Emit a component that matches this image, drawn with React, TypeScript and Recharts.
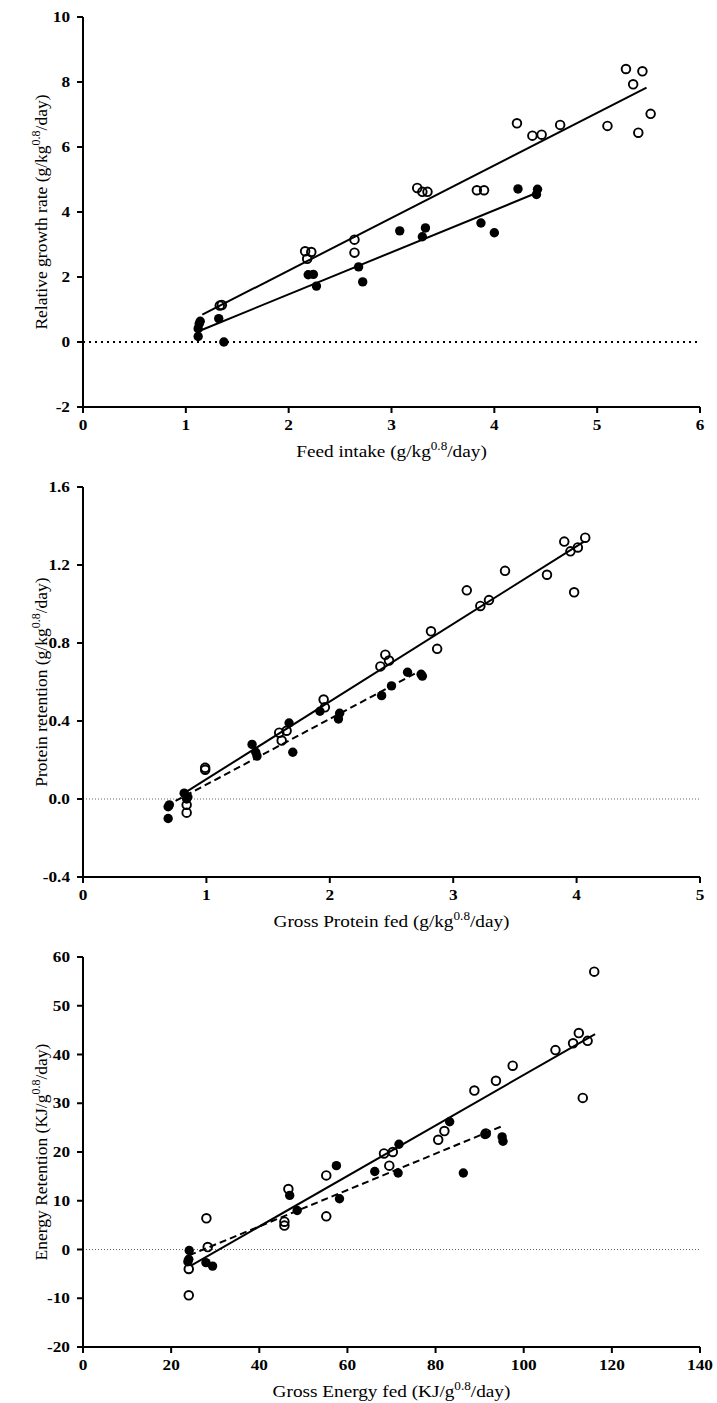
import React from 'react';
import { ScatterChart, Scatter, XAxis, YAxis, ReferenceLine, Label } from 'recharts';

// panel 1: relative growth rate vs feed intake
const growthOpenX = [1.33, 1.35, 2.16, 2.22, 2.18, 2.64, 2.64, 3.25, 3.30, 3.35, 3.83, 3.90, 4.22, 4.37, 4.46, 4.64, 5.10, 5.28, 5.44, 5.35, 5.40, 5.52];
const growthOpenY = [1.12, 1.14, 2.79, 2.77, 2.56, 3.15, 2.75, 4.74, 4.62, 4.62, 4.67, 4.67, 6.73, 6.35, 6.38, 6.68, 6.65, 8.40, 8.33, 7.93, 6.44, 7.02];
const growthFilledX = [1.12, 1.12, 1.13, 1.14, 1.32, 1.37, 2.19, 2.24, 2.27, 2.68, 2.72, 3.08, 3.33, 3.30, 3.87, 4.00, 4.23, 4.42, 4.41];
const growthFilledY = [0.17, 0.41, 0.56, 0.64, 0.72, 0.00, 2.07, 2.08, 1.72, 2.31, 1.85, 3.42, 3.51, 3.24, 3.66, 3.36, 4.71, 4.70, 4.54];
const growthOpenFit = [{ x: 1.16, y: 0.84 }, { x: 5.48, y: 7.83 }];
const growthFilledFit = [{ x: 1.13, y: 0.34 }, { x: 4.39, y: 4.56 }];

// panel 2: protein retention vs gross protein fed
const proteinOpenX = [0.99, 0.99, 0.84, 0.84, 1.59, 1.65, 1.61, 1.95, 1.96, 2.41, 2.45, 2.48, 2.82, 2.87, 3.11, 3.22, 3.29, 3.42, 3.76, 3.90, 3.95, 4.01, 3.98, 4.07];
const proteinOpenY = [0.16, 0.15, -0.03, -0.07, 0.34, 0.35, 0.30, 0.51, 0.47, 0.68, 0.74, 0.71, 0.86, 0.77, 1.07, 0.99, 1.02, 1.17, 1.15, 1.32, 1.27, 1.29, 1.06, 1.34];
const proteinFilledX = [0.69, 0.70, 0.69, 0.82, 0.85, 0.84, 1.37, 1.40, 1.41, 1.67, 1.70, 1.92, 2.08, 2.07, 2.42, 2.50, 2.63, 2.74, 2.75];
const proteinFilledY = [-0.04, -0.03, -0.10, 0.03, 0.01, 0.00, 0.28, 0.24, 0.22, 0.39, 0.24, 0.45, 0.44, 0.41, 0.53, 0.58, 0.65, 0.64, 0.63];
const proteinOpenFit = [{ x: 0.82, y: 0.03 }, { x: 4.06, y: 1.32 }];
const proteinFilledFit = [{ x: 0.75, y: -0.01 }, { x: 2.71, y: 0.65 }];

// panel 3: energy retention vs gross energy fed
const energyOpenX = [24.0, 24.0, 28.0, 28.3, 45.7, 45.7, 46.6, 55.2, 55.2, 68.3, 70.3, 69.5, 80.6, 82.0, 88.8, 91.4, 93.7, 97.5, 107.2, 111.2, 112.5, 114.5, 113.4, 116.0];
const energyOpenY = [-4.0, -9.4, 6.4, 0.5, 5.7, 4.9, 12.4, 15.2, 6.8, 19.7, 20.0, 17.2, 22.5, 24.3, 32.6, 23.8, 34.6, 37.7, 40.9, 42.3, 44.4, 42.8, 31.1, 57.0];
const energyFilledX = [24.1, 24.0, 23.8, 27.9, 29.4, 46.9, 48.6, 57.5, 58.2, 66.2, 71.5, 71.7, 83.2, 86.3, 91.2, 95.1, 95.3];
const energyFilledY = [-0.2, -2.0, -2.5, -2.7, -3.4, 11.1, 8.0, 17.2, 10.4, 16.0, 15.7, 21.6, 26.2, 15.7, 23.6, 23.1, 22.2];
const energyOpenFit = [{ x: 24.5, y: -3.3 }, { x: 116.2, y: 44.2 }];
const energyFilledFit = [{ x: 24.1, y: -1.2 }, { x: 95.1, y: 25.3 }];

const growthXTicks = [0, 1, 2, 3, 4, 5, 6];
const growthYTicks = [-2, 0, 2, 4, 6, 8, 10];
const proteinXTicks = [0, 1, 2, 3, 4, 5];
const proteinYTicks = [-0.4, 0, 0.4, 0.8, 1.2, 1.6];
const energyXTicks = [0, 20, 40, 60, 80, 100, 120, 140];
const energyYTicks = [-20, -10, 0, 10, 20, 30, 40, 50, 60];

const zip = (xs: number[], ys: number[]) => xs.map((x, i) => ({ x, y: ys[i] }));

const SERIF = "'Liberation Serif', 'Times New Roman', Times, serif";
const tickFont: React.CSSProperties = { fontFamily: SERIF, fontSize: 15, fontWeight: 700, fill: '#000' };
const titleFont: React.CSSProperties = { fontFamily: SERIF, fontSize: 17.5, fontWeight: 400, fill: '#000' };

const OpenDot = (p: any) => <circle cx={p.cx} cy={p.cy} r={4.3} fill="none" stroke="#000" strokeWidth={1.9} />;
const FilledDot = (p: any) => <circle cx={p.cx} cy={p.cy} r={4.7} fill="#000" />;

// the original figure is a little stretched sideways, so text gets a slight x scale
const XTick = (props: any) => (
    <text transform={`translate(${props.x}, ${props.y + 11}) scale(1.15, 1)`} textAnchor="middle" style={tickFont}>
        {props.payload.value}
    </text>
);

const yTick = (fmt?: (v: number) => string) => (props: any) => (
    <text transform={`translate(${props.x}, ${props.y + 5}) scale(1.15, 1)`} textAnchor="end" style={tickFont}>
        {fmt ? fmt(props.payload.value) : props.payload.value}
    </text>
);

const titleText = (pre: string, sup: string, post: string) => (
    <>
        {pre}
        <tspan dy={-7} style={{ fontSize: 12 }}>{sup}</tspan>
        <tspan dy={7}>{post}</tspan>
    </>
);

const xTitle = (pre: string, sup: string, post: string) => (props: any) => {
    const { x, y, width } = props.viewBox;
    return (
        <text transform={`translate(${x + width / 2}, ${y + 50}) scale(1.1, 1)`} textAnchor="middle" style={titleFont}>
            {titleText(pre, sup, post)}
        </text>
    );
};

const yTitle = (pre: string, sup: string, post: string) => (props: any) => {
    const { y, height } = props.viewBox;
    const cx = 47;
    const cy = y + height / 2;
    return (
        <text transform={`translate(${cx}, ${cy}) rotate(-90)`} textAnchor="middle" style={titleFont}>
            {titleText(pre, sup, post)}
        </text>
    );
};

interface PanelProps {
    open: { x: number; y: number }[];
    filled: { x: number; y: number }[];
    openFit: { x: number; y: number }[];
    filledFit: { x: number; y: number }[];
    filledDashed: boolean;
    xTicks: number[];
    yTicks: number[];
    yFormat?: (v: number) => string;
    zeroLine: { stroke: string; strokeWidth: number; dash: string };
    xLabel: [string, string, string];
    yLabel: [string, string, string];
}

const Panel: React.FC<PanelProps> = (p) => (
    <ScatterChart width={717} height={470} margin={{ top: 17, right: 17, bottom: 0, left: 0 }}>
        <XAxis
            type="number"
            dataKey="x"
            domain={[p.xTicks[0], p.xTicks[p.xTicks.length - 1]]}
            ticks={p.xTicks}
            interval={0}
            height={63}
            axisLine={{ stroke: '#000', strokeWidth: 2 }}
            tickLine={{ stroke: '#000', strokeWidth: 2 }}
            tickSize={6}
            tickMargin={6}
            tick={XTick}
        >
            <Label content={xTitle(...p.xLabel)} />
        </XAxis>
        <YAxis
            type="number"
            dataKey="y"
            domain={[p.yTicks[0], p.yTicks[p.yTicks.length - 1]]}
            ticks={p.yTicks}
            interval={0}
            width={83}
            axisLine={{ stroke: '#000', strokeWidth: 2 }}
            tickLine={{ stroke: '#000', strokeWidth: 2 }}
            tickSize={6}
            tickMargin={7}
            tick={yTick(p.yFormat)}
        >
            <Label content={yTitle(...p.yLabel)} />
        </YAxis>
        <ReferenceLine y={0} stroke={p.zeroLine.stroke} strokeWidth={p.zeroLine.strokeWidth} strokeDasharray={p.zeroLine.dash} />
        <ReferenceLine segment={p.openFit} stroke="#000" strokeWidth={2} />
        <ReferenceLine segment={p.filledFit} stroke="#000" strokeWidth={2} strokeDasharray={p.filledDashed ? '7 4' : undefined} />
        <Scatter data={p.open} shape={OpenDot} isAnimationActive={false} />
        <Scatter data={p.filled} shape={FilledDot} isAnimationActive={false} />
    </ScatterChart>
);

const App: React.FC = () => (
    <div style={{ position: 'absolute', left: 0, top: 0, width: 717, height: 1403, overflow: 'hidden', background: '#fff' }}>
        <Panel
            open={zip(growthOpenX, growthOpenY)}
            filled={zip(growthFilledX, growthFilledY)}
            openFit={growthOpenFit}
            filledFit={growthFilledFit}
            filledDashed={false}
            xTicks={growthXTicks}
            yTicks={growthYTicks}
            zeroLine={{ stroke: '#000', strokeWidth: 2, dash: '2 4' }}
            xLabel={['Feed intake (g/kg', '0.8', '/day)']}
            yLabel={['Relative growth rate (g/kg', '0.8', '/day)']}
        />
        <Panel
            open={zip(proteinOpenX, proteinOpenY)}
            filled={zip(proteinFilledX, proteinFilledY)}
            openFit={proteinOpenFit}
            filledFit={proteinFilledFit}
            filledDashed={true}
            xTicks={proteinXTicks}
            yTicks={proteinYTicks}
            yFormat={(v: number) => v.toFixed(1)}
            zeroLine={{ stroke: '#666', strokeWidth: 1, dash: '1 2' }}
            xLabel={['Gross Protein fed (g/kg', '0.8', '/day)']}
            yLabel={['Protein retention (g/kg', '0.8', '/day)']}
        />
        <Panel
            open={zip(energyOpenX, energyOpenY)}
            filled={zip(energyFilledX, energyFilledY)}
            openFit={energyOpenFit}
            filledFit={energyFilledFit}
            filledDashed={true}
            xTicks={energyXTicks}
            yTicks={energyYTicks}
            zeroLine={{ stroke: '#666', strokeWidth: 1, dash: '1 2' }}
            xLabel={['Gross Energy fed (KJ/g', '0.8', '/day)']}
            yLabel={['Energy Retention (KJ/g', '0.8', '/day)']}
        />
    </div>
);

export default App;
